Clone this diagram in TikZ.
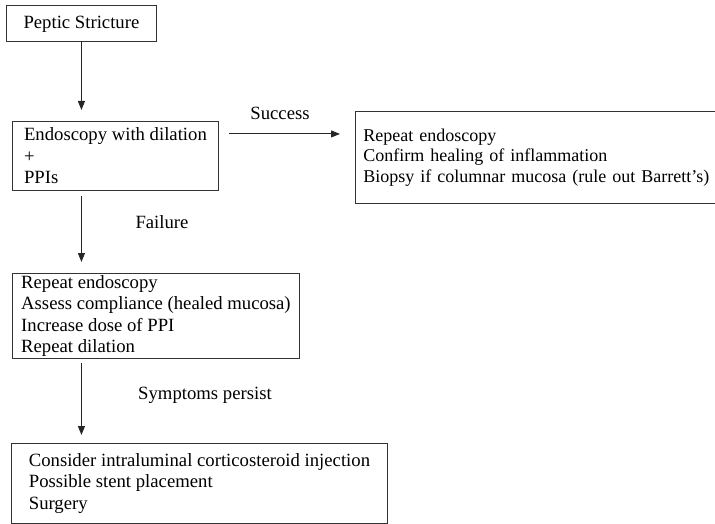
\documentclass[tikz,border=0pt]{standalone}
\usepackage{fontspec}
\setmainfont{Liberation Serif}
\usetikzlibrary{arrows.meta}
\tikzset{box/.style = {draw=black!80, line width=0.9pt, anchor=north west, align=left, inner sep=0, font=\fontsize{18.7}{21.5}\selectfont}}
\tikzset{lbl/.style = {font=\fontsize{18.7}{21.5}\selectfont}}
\tikzset{arr/.style = {draw=black!85, line width=0.9pt, -{Triangle[length=9pt, width=7pt]}}}

\begin{document}
\begin{tikzpicture}[x=1pt, y=-1pt]
    \useasboundingbox (0, 0) rectangle (715, 524);

    \node [box, align=center, minimum width=150pt, minimum height=36pt, text depth=2pt] (pstr) at (6, 5) {Peptic Stricture};
    \node [box, minimum width=206pt, minimum height=69pt] (endo) at (12, 121) {Endoscopy with dilation\\+\\PPIs};
    \node [box, inner xsep=8pt, text width=351pt, minimum height=92pt, font=\fontsize{18.0}{20.5}\selectfont] (heal) at (355, 111) {Repeat endoscopy\\Confirm healing of inflammation\\Biopsy if columnar mucosa (rule out Barrett's)};
    \node [box, minimum width=287pt, minimum height=85pt] (redo) at (12, 273) {Repeat endoscopy\\Assess compliance (healed mucosa)\\Increase dose of PPI\\Repeat dilation};
    \node [box, minimum width=376pt, minimum height=80pt] (salv) at (11, 443) {Consider intraluminal corticosteroid injection\\Possible stent placement\\Surgery};

    \node [lbl] (lsucc) at (280, 113) {Success};
    \node [lbl] (lfail) at (162, 222) {Failure};
    \node [lbl] (lsymp) at (205, 395) {Symptoms persist};

    \draw [arr, shorten >=11pt] (pstr.south) -- (pstr.south |- endo.north);
    \draw [arr, shorten <=10pt, shorten >=15pt] ([yshift=22pt]endo.east) -- ([yshift=22pt]endo.east -| heal.west);
    \draw [arr, shorten <=5pt, shorten >=11pt] (pstr.south |- endo.south) -- (pstr.south |- redo.north);
    \draw [arr, shorten <=4pt, shorten >=8pt] (pstr.south |- redo.south) -- (pstr.south |- salv.north);
\end{tikzpicture}
\end{document}
